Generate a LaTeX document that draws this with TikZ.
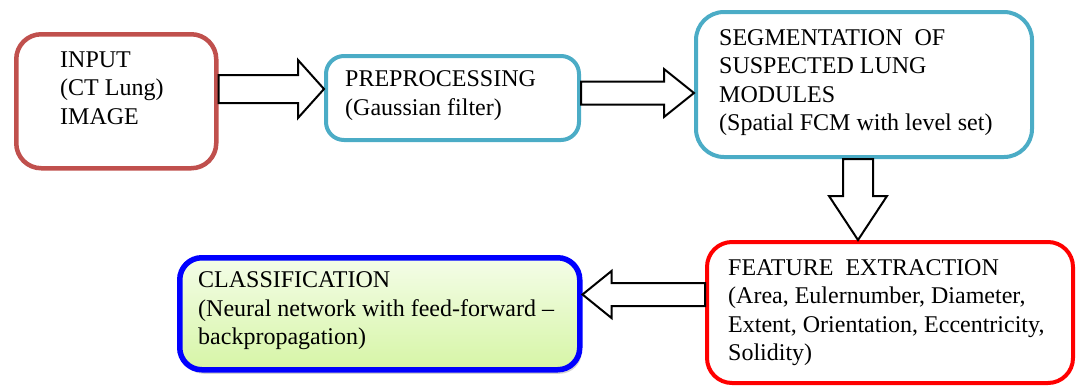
\documentclass[tikz,border=0pt]{standalone}
\usepackage{fontspec}
\setmainfont{Liberation Serif}
\usetikzlibrary{calc,shadows}
\definecolor{inred}{HTML}{C0504D}
\definecolor{aqua}{HTML}{4BACC6}
\definecolor{gtop}{HTML}{F4FDE8}
\definecolor{gbot}{HTML}{D6F5A6}
\tikzset{
  box/.style={draw, rounded corners=#1, minimum height=0pt, inner sep=0pt},
  txt/.style={anchor=base west, inner sep=0pt, align=left, font=\fontsize{24}{28.4}\selectfont},
  blockarr/.style={draw=black, line width=2pt, line join=miter}
}
\newcommand\blkarrow[5]{%
  \path ($(#2)!#5!(#1)$) coordinate (hb);
  \draw[blockarr] ($(#1)!#3!90:(#2)$) -- ($(hb)!#3!90:(#2)$) -- ($(hb)!#4!90:(#2)$) -- (#2)
    -- ($(hb)!#4!-90:(#2)$) -- ($(hb)!#3!-90:(#2)$) -- ($(#1)!#3!-90:(#2)$) -- cycle;}
\begin{document}
\begin{tikzpicture}[x=1pt,y=-1pt]
\useasboundingbox (0,0) rectangle (1076,389);
% boxes
\node[box=25pt, draw=inred, line width=4.5pt, minimum width=200pt, minimum height=134pt, anchor=north west] (in) at (14,32) {};
\node[box=18pt, draw=aqua, line width=4pt, minimum width=253pt, minimum height=84pt, anchor=north west] (pre) at (324,54) {};
\node[box=28pt, draw=aqua, line width=4pt, minimum width=336pt, minimum height=145pt, anchor=north west] (seg) at (694,10) {};
\node[box=25pt, draw=red, line width=4pt, minimum width=366pt, minimum height=141pt, anchor=north west] (feat) at (705,240) {};
\node[box=22pt, draw=blue, line width=5.5pt, top color=gtop, bottom color=gbot,
      drop shadow={opacity=0.35, shadow xshift=2pt, shadow yshift=-4pt},
      minimum width=400pt, minimum height=112pt, anchor=north west] (cls) at (177,255) {};
% texts (anchored at the baseline of their last line)
\node[txt] (tin) at (60,124) {INPUT\\(CT Lung)\\IMAGE};
\node[txt] (tpre) at (345,115.3) {PREPROCESSING\\(Gaussian filter)};
\node[txt] (tseg) at (719,130.4) {SEGMENTATION~ OF\\SUSPECTED LUNG\\MODULES\\(Spatial FCM with level set)};
\node[txt] (tfeat) at (728,360.4) {FEATURE~ EXTRACTION\\(Area, Eulernumber, Diameter,\\Extent, Orientation, Eccentricity,\\Solidity)};
\node[txt] (tcls) at (198,344.7) {CLASSIFICATION\\(Neural network with feed-forward --\\backpropagation)};
% arrows
\coordinate (a1s) at (in.east |- 0,89);
\coordinate (a1e) at (pre.west |- 0,89);
\coordinate (a2s) at (pre.east |- 0,93);
\coordinate (a2e) at (seg.west |- 0,93);
\coordinate (a3s) at (858,0 |- seg.south);
\coordinate (a3e) at (858,0 |- feat.north);
\coordinate (a4s) at (feat.west |- 0,294.5);
\coordinate (a4e) at (cls.east |- 0,294.5);
\blkarrow{a1s}{a1e}{14pt}{29pt}{26pt}
\blkarrow{a2s}{a2e}{11.5pt}{24pt}{30pt}
\blkarrow{a3s}{a3e}{15pt}{29pt}{44pt}
\blkarrow{a4s}{a4e}{11.5pt}{23.5pt}{29pt}
\end{tikzpicture}
\end{document}
